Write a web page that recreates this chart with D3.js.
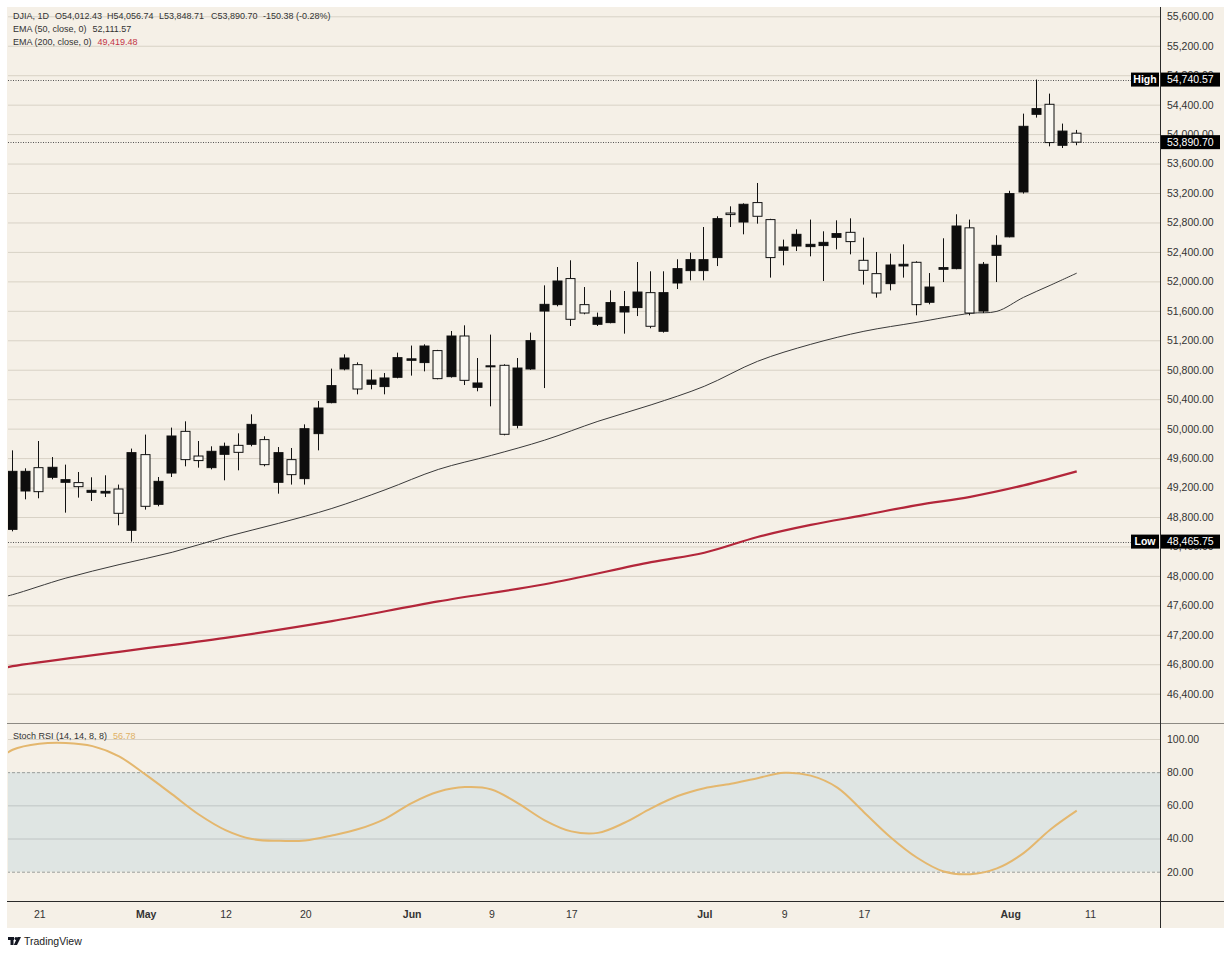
<!DOCTYPE html>
<html>
<head>
<meta charset="utf-8">
<script src="https://cdn.jsdelivr.net/npm/d3@7"></script>
<style>
  body { margin: 0; background: #fff; }
  svg { display: block; }
  text { font-family: "Liberation Sans", Arial, sans-serif; }
</style>
</head>
<body>
<div id="chart"></div>
<script>
// daily bars (black = up, hollow = down)
const opens = [48632, 49153, 49470, 49339, 49271, 49267, 49135, 49125, 49180, 48619,
  49647, 48972, 49397, 49963, 49628, 49470, 49651, 49773, 49787, 49851,
  49271, 49579, 49321, 49932, 50353, 50810, 50869, 50602, 50571, 50697,
  50928, 50897, 51060, 50706, 51258, 50561, 50840, 50860, 50045, 50810,
  51597, 51684, 52038, 51684, 51417, 51440, 51584, 51644, 51847, 51322,
  51978, 52146, 52146, 52323, 52928, 52806, 53070, 52839, 52422, 52480,
  52472, 52486, 52598, 52666, 52286, 52105, 51969, 52209, 52259, 51716,
  52164, 52173, 52727, 51597, 52354, 52605, 53214, 54269, 54405, 53848,
  54012.43];
const highs = [49705, 49461, 49832, 49614, 49511, 49411, 49339, 49366, 49240, 49729,
  49919, 49343, 50014, 50099, 49832, 49760, 49810, 49936, 50194, 49896,
  49750, 49737, 50058, 50375, 50815, 51009, 50900, 50801, 50755, 51032,
  51128, 51145, 51070, 51326, 51403, 50959, 51277, 50874, 50959, 51304,
  51946, 52195, 52286, 51923, 51576, 51878, 51869, 52263, 52137, 52137,
  52300, 52390, 52738, 52884, 53019, 53060, 53336, 52850, 52567, 52707,
  52839, 52680, 52829, 52856, 52594, 52399, 52377, 52503, 52273, 52113,
  52585, 52911, 52839, 52263, 52626, 53230, 54278, 54740.57, 54550, 54143,
  54056.74];
const lows = [48605, 49040, 49054, 49312, 48859, 49063, 49017, 49071, 48687, 48465.75,
  48900, 48945, 49343, 49488, 49470, 49447, 49298, 49434, 49760, 49488,
  49117, 49240, 49240, 49705, 50344, 50792, 50466, 50534, 50466, 50683,
  50720, 50778, 50670, 50693, 50592, 50507, 50303, 49909, 50004, 50799,
  50551, 51661, 51394, 51553, 51394, 51430, 51290, 51529, 51363, 51304,
  51896, 52014, 52014, 52208, 52738, 52639, 52784, 52051, 52218, 52412,
  52340, 52005, 52435, 52367, 51956, 51779, 51878, 52051, 51539, 51688,
  51991, 52164, 51539, 51570, 51991, 52598, 53192, 54224, 53834, 53811,
  53848.71];
const closes = [49420, 49420, 49144, 49475, 49307, 49212, 49162, 49148, 48850, 49674,
  48945, 49284, 49900, 49579, 49566, 49692, 49760, 49678, 50058, 49511,
  49674, 49375, 49999, 50280, 50584, 50959, 50538, 50660, 50688, 50964,
  50948, 51122, 50679, 51258, 50656, 50620, 50853, 49923, 50823, 51195,
  51688, 52005, 51485, 51570, 51512, 51712, 51657, 51855, 51390, 51847,
  52173, 52295, 52295, 52852, 52907, 53047, 52884, 52323, 52467, 52639,
  52503, 52530, 52649, 52540, 52150, 51842, 52222, 52232, 51684, 51923,
  52187, 52752, 51570, 52232, 52490, 53192, 54106, 54346, 53885, 54041.08,
  53890.70];

// moving averages, sampled at bar numbers
const ema50Bars = [-1, 0, 4, 8, 12, 16, 20, 24, 28, 32, 36, 40, 44, 48, 52, 56, 60, 64, 68, 72, 74, 76, 78, 80];
const ema50Values = [47702, 47745, 47970, 48153, 48321, 48529, 48714, 48916, 49169, 49446, 49637, 49844,
  50099, 50323, 50575, 50914, 51145, 51322, 51444, 51566, 51593, 51783, 51946, 52111.57];
const ema200Bars = [-1, 0, 8, 16, 24, 32, 40, 48, 52, 56, 60, 64, 68, 72, 76, 80];
const ema200Values = [46735, 46774, 46969, 47159, 47385, 47654, 47887, 48186, 48314, 48528, 48692,
  48825, 48962, 49074, 49229, 49419.48];

const stochBars = [-1, 0, 2, 4, 6, 8, 10, 12, 14, 16, 18, 20, 22, 24, 26, 28, 30, 32, 34, 36, 38, 40,
  42, 44, 46, 48, 50, 52, 54, 56, 58, 60, 62, 64, 66, 68, 70, 72, 74, 76, 78, 80];
const stochValues = [88, 93.5, 97.1, 97.6, 95.7, 89.5, 78.5, 66.6, 54.5, 45.1, 39.7, 38.6, 38.8, 41.8,
  45.7, 51.9, 61.4, 68.2, 71, 69.6, 61.2, 51, 44.3, 43.4, 49.5, 58.2, 65.6, 70.3, 73, 76.4,
  79.6, 77.9, 70.7, 55.9, 40.8, 28.4, 20.1, 18.5, 22, 31.2, 45.3, 56.78];

const priceTicks = [46400, 46800, 47200, 47600, 48000, 48400, 48800, 49200, 49600, 50000,
  50400, 50800, 51200, 51600, 52000, 52400, 52800, 53200, 53600, 54000, 54400, 54800, 55200, 55600];
const stochTicks = [100, 80, 60, 40, 20];
const dateBars = [2, 10, 16, 22, 30, 36, 42, 52, 58, 64, 75, 81];
const dateLabels = ["21", "May", "12", "20", "Jun", "9", "17", "Jul", "9", "17", "Aug", "11"];
const monthLabels = ["May", "Jun", "Jul", "Aug"];

const lastClose = 53890.70;
const highValue = 54740.57;
const lowValue = 48465.75;

const width = 1232;
const height = 955;
const box = { left: 8, right: 1160, top: 7, mainBottom: 723, stochBottom: 901, axisBottom: 928, outerRight: 1224 };

const bg = "#f5f0e7";
const ink = "#333";
const fmt = d3.format(",.2f");

const svg = d3.select("#chart").append("svg")
  .attr("width", width)
  .attr("height", height);

svg.append("rect").attr("width", width).attr("height", height).attr("fill", "#fff");
svg.append("rect")
  .attr("x", box.left - 1).attr("y", box.top)
  .attr("width", box.outerRight - box.left + 1).attr("height", box.axisBottom - box.top)
  .attr("fill", bg);

const defs = svg.append("defs");
defs.append("clipPath").attr("id", "mainClip").append("rect")
  .attr("x", box.left).attr("y", box.top)
  .attr("width", box.right - box.left).attr("height", box.mainBottom - box.top);
defs.append("clipPath").attr("id", "stochClip").append("rect")
  .attr("x", box.left).attr("y", box.mainBottom + 1)
  .attr("width", box.right - box.left).attr("height", box.stochBottom - box.mainBottom - 1);

const x = d3.scaleLinear().domain([-0.35, 86.26]).range([box.left, box.right]);
const y = d3.scaleLinear().domain([46400, 55600]).range([693.7, 16.3]);
const ys = d3.scaleLinear().domain([20, 100]).range([871.7, 739]);

// price grid + labels
const yAxis = svg.append("g")
  .attr("transform", `translate(${box.right},0)`)
  .call(d3.axisRight(y).tickValues(priceTicks).tickFormat(fmt)
    .tickSize(-(box.right - box.left)).tickPadding(7));
yAxis.select(".domain").remove();
yAxis.selectAll("line").attr("stroke", "#d8d2c6");
yAxis.selectAll("text").attr("fill", ink).style("font-size", "10.5px");

// stoch band and grid
svg.append("rect")
  .attr("x", box.left).attr("y", ys(80))
  .attr("width", box.right - box.left).attr("height", ys(20) - ys(80))
  .attr("fill", "#dfe5e3");

const sAxis = svg.append("g")
  .attr("transform", `translate(${box.right},0)`)
  .call(d3.axisRight(ys).tickValues(stochTicks).tickFormat(d3.format(".2f"))
    .tickSize(-(box.right - box.left)).tickPadding(7));
sAxis.select(".domain").remove();
sAxis.selectAll("line")
  .attr("stroke", d => d === 100 ? "#d8d2c6" : (d === 80 || d === 20) ? "#9a9d9b" : "#bfc6c5")
  .attr("stroke-dasharray", d => (d === 80 || d === 20) ? "3,2" : null);
sAxis.selectAll("text").attr("fill", ink).style("font-size", "10.5px");

// last / high / low dotted lines
const refLines = [highValue, lastClose, lowValue];
svg.append("g").selectAll("line").data(refLines).join("line")
  .attr("x1", box.left).attr("x2", box.right)
  .attr("y1", d => Math.round(y(d)) + 0.5).attr("y2", d => Math.round(y(d)) + 0.5)
  .attr("stroke", "#555").attr("stroke-dasharray", "1,1.5");

// moving averages
const curve = d3.curveCatmullRom.alpha(0.5);
const line = d3.line().x(d => x(d[0])).y(d => y(d[1])).curve(curve);
const main = svg.append("g").attr("clip-path", "url(#mainClip)");
main.append("path")
  .datum(ema200Bars.map((b, i) => [b, ema200Values[i]]))
  .attr("d", line).attr("fill", "none")
  .attr("stroke", "#b3263a").attr("stroke-width", 2.2);
main.append("path")
  .datum(ema50Bars.map((b, i) => [b, ema50Values[i]]))
  .attr("d", line).attr("fill", "none")
  .attr("stroke", "#3a3a3a").attr("stroke-width", 1);

// candles
const candles = opens.map((o, i) => ({ i, o, h: highs[i], l: lows[i], c: closes[i] }));
const bars = main.append("g").selectAll("g").data(candles).join("g");
bars.append("line")
  .attr("x1", d => Math.round(x(d.i)) - 0.5).attr("x2", d => Math.round(x(d.i)) - 0.5)
  .attr("y1", d => y(d.h)).attr("y2", d => y(d.l))
  .attr("stroke", "#111").attr("stroke-width", 1);
bars.append("rect")
  .attr("x", d => Math.round(x(d.i)) - 5)
  .attr("width", 9)
  .attr("y", d => y(Math.max(d.o, d.c)))
  .attr("height", d => Math.max(1, y(Math.min(d.o, d.c)) - y(Math.max(d.o, d.c))))
  .attr("fill", d => d.c >= d.o ? "#0d0d0d" : "#faf8f2")
  .attr("stroke", "#111").attr("stroke-width", 1);

// stoch rsi line
const sLine = d3.line().x(d => x(d[0])).y(d => ys(d[1])).curve(curve);
svg.append("g").attr("clip-path", "url(#stochClip)").append("path")
  .datum(stochBars.map((b, i) => [b, stochValues[i]]))
  .attr("d", sLine).attr("fill", "none")
  .attr("stroke", "#e4b76e").attr("stroke-width", 2);

// frame lines
svg.append("line").attr("x1", box.left - 1).attr("x2", box.outerRight)
  .attr("y1", box.mainBottom + 0.5).attr("y2", box.mainBottom + 0.5)
  .attr("stroke", "#8c8983");
svg.append("line").attr("x1", box.left - 1).attr("x2", box.outerRight)
  .attr("y1", box.stochBottom + 0.5).attr("y2", box.stochBottom + 0.5)
  .attr("stroke", "#2a2a2a");
svg.append("line").attr("x1", box.right + 0.5).attr("x2", box.right + 0.5)
  .attr("y1", box.top).attr("y2", box.axisBottom)
  .attr("stroke", "#2a2a2a");

// time axis
const xAxis = svg.append("g")
  .attr("transform", `translate(0,${box.stochBottom + 1})`)
  .call(d3.axisBottom(x).tickValues(dateBars).tickFormat((d, i) => dateLabels[i])
    .tickSize(0).tickPadding(9));
xAxis.select(".domain").remove();
xAxis.selectAll("text")
  .attr("fill", ink).style("font-size", "10.5px")
  .style("font-weight", (d, i) => monthLabels.includes(dateLabels[i]) ? "bold" : null);

// price tags on the axis
function tag(value, name) {
  const cy = y(value);
  const g = svg.append("g");
  if (name) {
    g.append("rect").attr("x", 1131).attr("y", cy - 7).attr("width", 28).attr("height", 14).attr("fill", "#000");
    g.append("text").attr("x", 1145).attr("y", cy).attr("dy", "0.35em")
      .attr("text-anchor", "middle").attr("fill", "#fff")
      .style("font-size", "10.5px").style("font-weight", "bold").text(name);
  }
  g.append("rect").attr("x", box.right + 1).attr("y", cy - 7).attr("width", 59).attr("height", 14).attr("fill", "#000");
  g.append("text").attr("x", box.right + 7).attr("y", cy).attr("dy", "0.35em")
    .attr("fill", "#fff").style("font-size", "10.5px").text(fmt(value));
}
tag(highValue, "High");
tag(lowValue, "Low");
tag(lastClose, null);

// legends
const legend = svg.append("g").style("font-size", "9px").attr("fill", ink);
const ohlc = [
  ["DJIA, 1D", 13],
  ["O" + fmt(opens[80]), 55],
  ["H" + fmt(highs[80]), 107],
  ["L" + fmt(lows[80]), 159],
  ["C" + fmt(closes[80]), 211],
  ["-150.38 (-0.28%)", 263]
];
legend.selectAll("text.ohlc").data(ohlc).join("text")
  .attr("class", "ohlc")
  .attr("x", d => d[1]).attr("y", 16).attr("dy", "0.35em")
  .text(d => d[0]);

function legendRow(label, value, color, cy) {
  const t = legend.append("text").attr("x", 13).attr("y", cy).attr("dy", "0.35em").text(label);
  const w = t.node().getComputedTextLength();
  legend.append("text").attr("x", 13 + w + 6).attr("y", cy).attr("dy", "0.35em")
    .attr("fill", color).text(value);
}
legendRow("EMA (50, close, 0)", fmt(ema50Values[ema50Values.length - 1]), ink, 29);
legendRow("EMA (200, close, 0)", fmt(ema200Values[ema200Values.length - 1]), "#c23446", 42);
legendRow("Stoch RSI (14, 14, 8, 8)", d3.format(".2f")(stochValues[stochValues.length - 1]), "#e0b064", 736);

// tradingview mark
const logo = svg.append("g").attr("fill", "#131722");
logo.append("rect").attr("x", 8).attr("y", 937).attr("width", 6).attr("height", 3);
logo.append("rect").attr("x", 10.5).attr("y", 937).attr("width", 3).attr("height", 8);
logo.append("circle").attr("cx", 16).attr("cy", 938.5).attr("r", 1.5);
logo.append("path").attr("d", "M17.5 937 L21 937 L17 945 L13.8 945 Z");
svg.append("text").attr("x", 24).attr("y", 941).attr("dy", "0.35em")
  .attr("fill", "#222").style("font-size", "10.5px").text("TradingView");
</script>
</body>
</html>
